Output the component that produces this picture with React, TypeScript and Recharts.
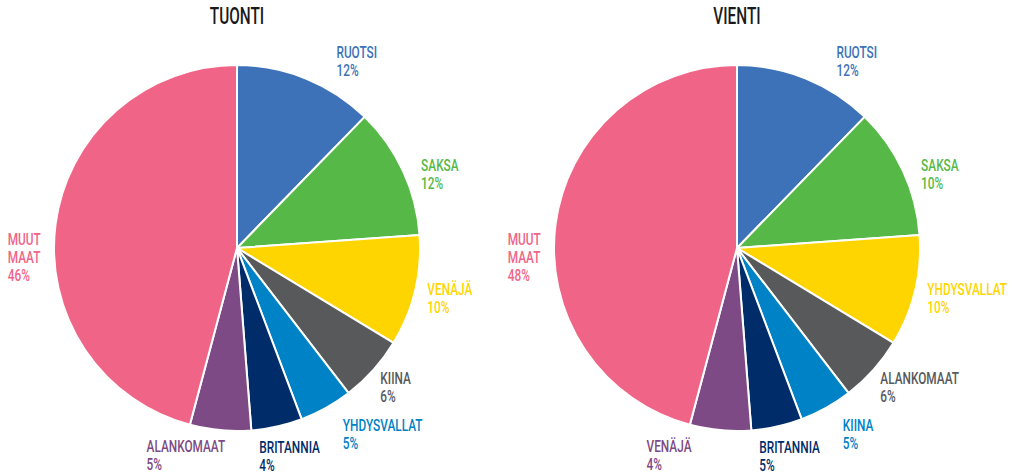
import { Pie, PieChart } from 'recharts'

const tuontiMaat = ['RUOTSI', 'SAKSA', 'VENÄJÄ', 'KIINA', 'YHDYSVALLAT', 'BRITANNIA', 'ALANKOMAAT', 'MUUT MAAT']
const tuontiOsuus = [12.3, 11.6, 9.8, 5.9, 4.7, 4.5, 5.4, 45.9]
const tuontiTeksti = ['12%', '12%', '10%', '6%', '5%', '4%', '5%', '46%']

const vientiMaat = ['RUOTSI', 'SAKSA', 'YHDYSVALLAT', 'ALANKOMAAT', 'KIINA', 'BRITANNIA', 'VENÄJÄ', 'MUUT MAAT']
const vientiOsuus = [12.3, 11.6, 9.8, 5.9, 4.7, 4.5, 5.4, 45.9]
const vientiTeksti = ['12%', '10%', '10%', '6%', '5%', '5%', '4%', '48%']

const colors = ['#3d72b8', '#56b947', '#ffd500', '#58595b', '#0082c6', '#002d69', '#7e4a85', '#f06587']

// nudge from the polar point just outside the slice
const labelNudge: [number, number][] = [
    [23, -2],
    [0, 8],
    [-7, -1],
    [-8, 1],
    [7, 6],
    [-22, 7],
    [-72, 2],
    [-28, 23],
]

const RAD = Math.PI / 180
const FONT = 'Roboto, "Liberation Sans Narrow", sans-serif'

function buildRows(names: string[], values: number[], texts: string[]) {
    return names.map((name, i) => ({ name, value: values[i], pct: texts[i], fill: colors[i] }))
}

function renderLabel(props: any) {
    const { cx, cy, midAngle, outerRadius, index, payload } = props
    const r = outerRadius + 20
    const x = cx + r * Math.cos(-midAngle * RAD) + labelNudge[index][0]
    const y = cy + r * Math.sin(-midAngle * RAD) + labelNudge[index][1]
    const lines = [...String(payload.name).split(' '), payload.pct]
    return (
        <g key={`l-${index}`}>
            {lines.map((line, i) => (
                <text
                    key={i}
                    transform={`translate(${x},${y + i * 18}) scale(0.74,1)`}
                    fontFamily={FONT}
                    fontWeight={500}
                    fontSize={16}
                    fill={colors[index]}
                >
                    {line}
                </text>
            ))}
        </g>
    )
}

function Title({ text, x }: { text: string; x: number }) {
    return (
        <div
            style={{
                position: 'absolute',
                left: x - 100,
                top: 2,
                width: 200,
                textAlign: 'center',
                fontFamily: FONT,
                fontWeight: 500,
                fontSize: 24,
                color: '#1a1a1a',
                transform: 'scaleX(0.64)',
                lineHeight: '28px',
            }}
        >
            {text}
        </div>
    )
}

export default function App() {
    const tuonti = buildRows(tuontiMaat, tuontiOsuus, tuontiTeksti)
    const vienti = buildRows(vientiMaat, vientiOsuus, vientiTeksti)

    return (
        <div style={{ position: 'absolute', left: 0, top: 0, width: 1018, height: 475, background: '#fff' }}>
            <PieChart width={1018} height={475} margin={{ top: 0, right: 0, bottom: 0, left: 0 }}>
                <Pie
                    data={tuonti}
                    dataKey="value"
                    nameKey="name"
                    cx={237}
                    cy={248}
                    outerRadius={183}
                    startAngle={90}
                    endAngle={-270}
                    stroke="#ffffff"
                    strokeWidth={2}
                    label={renderLabel}
                    labelLine={false}
                    isAnimationActive={false}
                />
                <Pie
                    data={vienti}
                    dataKey="value"
                    nameKey="name"
                    cx={737}
                    cy={248}
                    outerRadius={183}
                    startAngle={90}
                    endAngle={-270}
                    stroke="#ffffff"
                    strokeWidth={2}
                    label={renderLabel}
                    labelLine={false}
                    isAnimationActive={false}
                />
            </PieChart>
            <Title text="TUONTI" x={237} />
            <Title text="VIENTI" x={737} />
        </div>
    )
}
